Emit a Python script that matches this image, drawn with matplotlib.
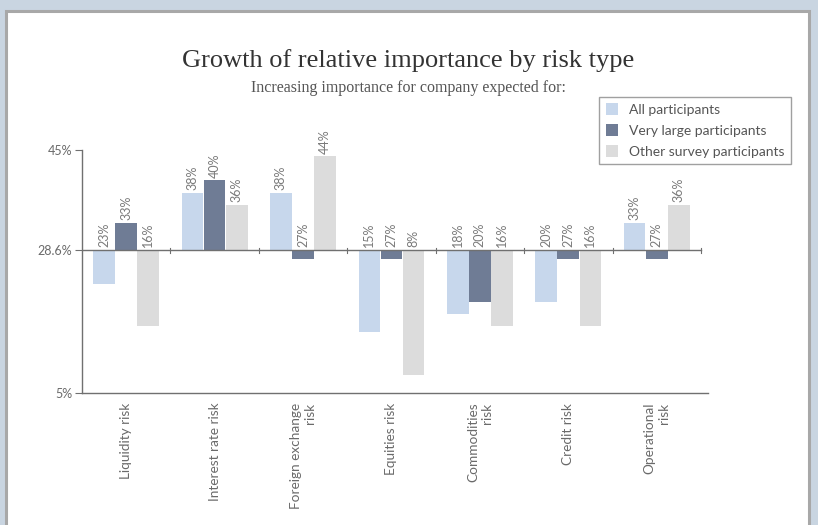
import numpy as np
import matplotlib
matplotlib.use("Agg")
import matplotlib.pyplot as plt
from matplotlib.patches import Rectangle

# survey results, % of respondents
categories = ["Liquidity risk", "Interest rate risk", "Foreign exchange\nrisk",
              "Equities risk", "Commodities\nrisk", "Credit risk", "Operational\nrisk"]
all_participants = [23, 38, 38, 15, 18, 20, 33]
very_large = [33, 40, 27, 27, 20, 27, 27]
other_survey = [16, 36, 44, 8, 16, 16, 36]
series_names = ["All participants", "Very large participants", "Other survey participants"]
baseline = 28.6
ytick_values = [5, 28.6, 45]
ytick_labels = ["5%", "28.6%", "45%"]

W, H = 818, 525
fig = plt.figure(figsize=(W / 100, H / 100), dpi=100)
fig.patch.set_facecolor("#c9d5e1")

# white panel with grey frame
panel = Rectangle((6 / W, -0.02), 803 / W, 1 - 11 / H + 0.02, transform=fig.transFigure,
                  facecolor="white", edgecolor="#a8a8a8", linewidth=2.2, zorder=-5)
fig.patches.append(panel)

ax = fig.add_axes([82 / W, (H - 393) / H, 626 / W, 243 / H])
ax.set_facecolor("none")

colors = ["#c7d7ec", "#6f7c95", "#dcdcdc"]
series = [all_participants, very_large, other_survey]
x = np.arange(len(categories))
width = 0.245
offsets = [-0.25, 0.0, 0.25]

for vals, off, col in zip(series, offsets, colors):
    v = np.array(vals, dtype=float)
    ax.bar(x + off, v - baseline, width=width, bottom=baseline, color=col, zorder=2)
    for xi, val in zip(x + off, v):
        ax.text(xi, max(val, baseline) + 0.4, "%d%%" % val, rotation=90,
                ha="center", va="bottom", fontsize=9, color="#7a7a7a",
                family="Lato", clip_on=False)

# reference line at 28.6% with group separators
ax.plot([-0.5, 6.5], [baseline, baseline], color="#707070", lw=1.0, zorder=3)
for b in np.arange(0.5, 7, 1.0):
    ax.plot([b, b], [baseline - 0.6, baseline + 0.3], color="#707070", lw=0.8, zorder=3)

ax.set_xlim(-0.5, 6.58)
ax.set_ylim(5, 45)
for s in ["top", "right"]:
    ax.spines[s].set_visible(False)
for s in ["left", "bottom"]:
    ax.spines[s].set_color("#707070")
    ax.spines[s].set_linewidth(1.0)

ax.set_yticks(ytick_values)
ax.set_yticklabels(ytick_labels, fontsize=9, color="#6a6a6a", family="Lato")
ax.tick_params(axis="y", length=5, color="#707070", pad=2)

ax.set_xticks(x)
ax.set_xticklabels(categories, rotation=90, ha="center", va="top",
                   multialignment="right", fontsize=9.8, color="#6a6a6a", family="Lato")
ax.tick_params(axis="x", length=0, pad=7)

fig.text(408 / W, 1 - 61 / H, "Growth of relative importance by risk type",
         ha="center", va="center", fontsize=19, family="Liberation Serif", color="#333333")
fig.text(408 / W, 1 - 88 / H, "Increasing importance for company expected for:",
         ha="center", va="center", fontsize=11.5, family="Liberation Serif", color="#555555")

handles = [Rectangle((0, 0), 1, 1, facecolor=c) for c in colors]
leg = fig.legend(handles, series_names, loc="upper right",
                 bbox_to_anchor=(798 / W, 1 - 90 / H), frameon=True,
                 fancybox=False, handlelength=0.9, handleheight=0.9, handletextpad=0.8,
                 borderpad=0.45, labelspacing=0.6, prop={"family": "Lato", "size": 10})
leg.get_frame().set_edgecolor("#888888")
leg.get_frame().set_linewidth(1.0)
for t in leg.get_texts():
    t.set_color("#555555")

fig.savefig("out.png", dpi=100, facecolor=fig.get_facecolor())
